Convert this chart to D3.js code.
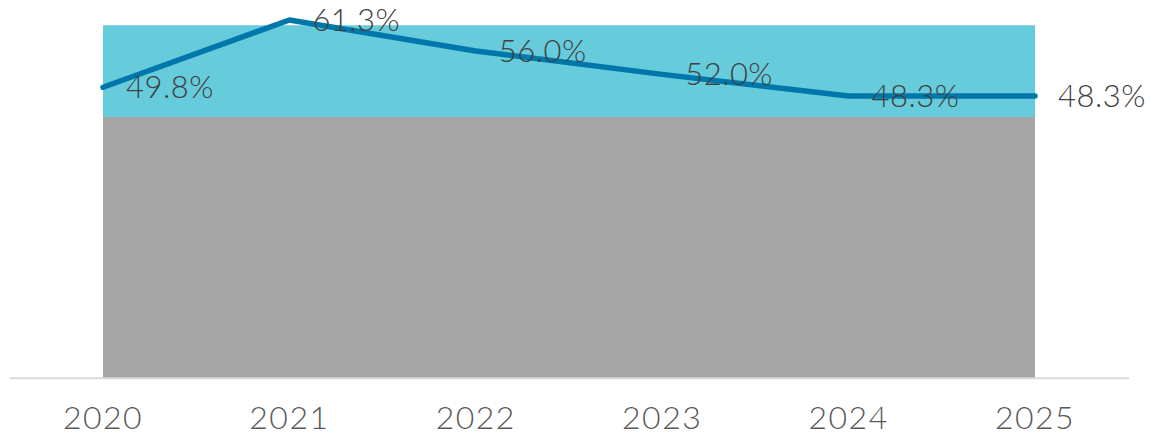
<!DOCTYPE html>
<html>
<head>
<meta charset="utf-8">
<script src="https://cdn.jsdelivr.net/npm/d3@7"></script>
<style>
  html, body { margin: 0; padding: 0; background: #fff; }
  svg { display: block; font-family: Lato, "Open Sans", sans-serif; font-weight: 300; }
</style>
</head>
<body>
<div id="chart"></div>
<script>
const years = ["2020", "2021", "2022", "2023", "2024", "2025"];
const share = [49.8, 61.3, 56.0, 52.0, 48.3, 48.3];
const baseBand = [44.7, 44.7, 44.7, 44.7, 44.7, 44.7];
const upperBand = [15.7, 15.7, 15.7, 15.7, 15.7, 15.7];

const width = 1150;
const height = 436;

const svg = d3.select("#chart").append("svg")
  .attr("width", width).attr("height", height)
  .attr("viewBox", `0 0 ${width} ${height}`);

const x = d3.scalePoint().domain(years).range([103, 1035]);
const y = d3.scaleLinear().domain([0, 61.3]).range([378.3, 20]);

// stacked bands behind the line
const rows = years.map((year, i) => ({ year, base: baseBand[i], upper: upperBand[i] }));
const stacked = d3.stack().keys(["base", "upper"])(rows);
const fills = { base: "#a5a5a5", upper: "#66cbdb" };
const area = d3.area()
  .x((d) => x(d.data.year))
  .y0((d) => y(d[0]))
  .y1((d) => y(d[1]));

svg.append("g").selectAll("path").data(stacked).join("path")
  .attr("fill", (d) => fills[d.key])
  .attr("d", area);

// baseline
svg.append("line")
  .attr("x1", 10).attr("x2", 1129)
  .attr("y1", y(0)).attr("y2", y(0))
  .attr("stroke", "#d9d9d9").attr("stroke-width", 2);

// year labels
svg.append("g").selectAll("text").data(years).join("text")
  .attr("x", (d) => x(d))
  .attr("y", 429)
  .attr("text-anchor", "middle")
  .attr("font-size", 32)
  .attr("letter-spacing", 1.5)
  .attr("fill", "#595959")
  .text((d) => d);

// share line
const line = d3.line().x((d, i) => x(years[i])).y((d) => y(d));
svg.append("path")
  .datum(share)
  .attr("fill", "none")
  .attr("stroke", "#0077aa")
  .attr("stroke-width", 5.5)
  .attr("stroke-linecap", "round")
  .attr("stroke-linejoin", "round")
  .attr("d", line);

// value labels, right of each point
svg.append("g").selectAll("text").data(share).join("text")
  .attr("x", (d, i) => x(years[i]) + 23)
  .attr("y", (d) => y(d) + 11)
  .attr("font-size", 31)
  .attr("letter-spacing", 0.5)
  .attr("fill", "#404040")
  .text((d) => d.toFixed(1) + "%");
</script>
</body>
</html>
